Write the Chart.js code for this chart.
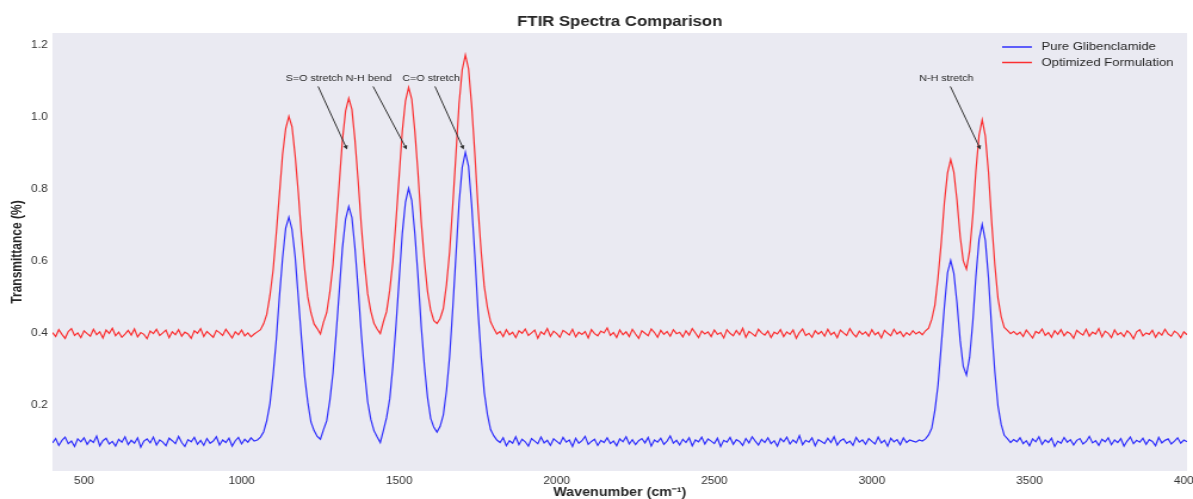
<!DOCTYPE html>
<html>
<head>
<meta charset="utf-8">
<script src="https://cdn.jsdelivr.net/npm/chart.js@4.4.1/dist/chart.umd.min.js"></script>
<style>
  html, body { margin: 0; padding: 0; background: #ffffff; overflow: hidden; }
  /* the reference is a 1000x500 figure stretched to 1193 wide, so draw at 1000 and stretch the same way */
  #wrap { width: 1000px; height: 499px; transform: scale(1.193, 1); transform-origin: 0 0; }
  #spectra { display: block; }
</style>
</head>
<body>
<div id="wrap"><canvas id="spectra" width="1000" height="499"></canvas></div>
<script>
// x values, cm^-1
const wavenumbers = [
  400,410,420,430,440,450,460,470,480,490,500,510,520,530,540,550,560,570,580,590,
  600,610,620,630,640,650,660,670,680,690,700,710,720,730,740,750,760,770,780,790,
  800,810,820,830,840,850,860,870,880,890,900,910,920,930,940,950,960,970,980,990,
  1000,1010,1020,1030,1040,1050,1060,1070,1080,1090,1100,1110,1120,1130,1140,1150,1160,1170,1180,1190,
  1200,1210,1220,1230,1240,1250,1260,1270,1280,1290,1300,1310,1320,1330,1340,1350,1360,1370,1380,1390,
  1400,1410,1420,1430,1440,1450,1460,1470,1480,1490,1500,1510,1520,1530,1540,1550,1560,1570,1580,1590,
  1600,1610,1620,1630,1640,1650,1660,1670,1680,1690,1700,1710,1720,1730,1740,1750,1760,1770,1780,1790,
  1800,1810,1820,1830,1840,1850,1860,1870,1880,1890,1900,1910,1920,1930,1940,1950,1960,1970,1980,1990,
  2000,2010,2020,2030,2040,2050,2060,2070,2080,2090,2100,2110,2120,2130,2140,2150,2160,2170,2180,2190,
  2200,2210,2220,2230,2240,2250,2260,2270,2280,2290,2300,2310,2320,2330,2340,2350,2360,2370,2380,2390,
  2400,2410,2420,2430,2440,2450,2460,2470,2480,2490,2500,2510,2520,2530,2540,2550,2560,2570,2580,2590,
  2600,2610,2620,2630,2640,2650,2660,2670,2680,2690,2700,2710,2720,2730,2740,2750,2760,2770,2780,2790,
  2800,2810,2820,2830,2840,2850,2860,2870,2880,2890,2900,2910,2920,2930,2940,2950,2960,2970,2980,2990,
  3000,3010,3020,3030,3040,3050,3060,3070,3080,3090,3100,3110,3120,3130,3140,3150,3160,3170,3180,3190,
  3200,3210,3220,3230,3240,3250,3260,3270,3280,3290,3300,3310,3320,3330,3340,3350,3360,3370,3380,3390,
  3400,3410,3420,3430,3440,3450,3460,3470,3480,3490,3500,3510,3520,3530,3540,3550,3560,3570,3580,3590,
  3600,3610,3620,3630,3640,3650,3660,3670,3680,3690,3700,3710,3720,3730,3740,3750,3760,3770,3780,3790,
  3800,3810,3820,3830,3840,3850,3860,3870,3880,3890,3900,3910,3920,3930,3940,3950,3960,3970,3980,3990,
  4000
];

// Pure Glibenclamide
const pureValues = [
  // 400
  0.096,0.108,0.089,0.103,0.112,0.094,0.101,0.086,0.107,0.099,
  0.110,0.092,0.104,0.097,0.115,0.088,0.102,0.109,0.093,0.100,
  0.087,0.106,0.098,0.113,0.091,0.103,0.095,0.110,0.084,0.101,
  0.107,0.096,0.112,0.090,0.104,0.098,0.088,0.109,0.102,0.094,
  0.114,0.097,0.086,0.105,0.099,0.111,0.092,0.103,0.089,0.108,
  0.095,0.101,0.113,0.090,0.104,0.097,0.109,0.087,0.102,0.111,
  0.093,0.106,0.098,0.110,0.101,
  // 1050
  0.104,0.112,0.127,0.158,0.205,0.285,0.382,0.502,0.608,0.692,
  0.722,0.688,0.612,0.498,0.386,0.281,0.209,0.154,0.130,0.114,
  0.106,0.133,0.157,0.214,0.290,0.400,0.517,0.637,0.717,0.752,
  0.721,0.633,0.521,0.396,0.294,0.210,0.161,0.130,0.113,0.097,
  0.131,0.166,0.218,0.309,0.423,0.550,0.678,0.764,0.802,0.768,
  0.674,0.554,0.419,0.310,0.222,0.164,0.139,0.126,0.142,0.173,
  0.240,0.334,0.468,0.614,0.760,0.860,0.902,0.864,0.756,0.618,
  0.464,0.338,0.236,0.175,0.133,0.116,
  // 1810
  0.104,0.097,0.110,0.088,0.102,0.095,0.113,0.091,0.106,0.099,
  0.087,0.108,0.101,0.094,0.112,0.096,0.103,0.089,0.107,0.100,
  0.093,0.111,0.098,0.104,0.086,0.109,0.095,0.102,0.114,0.092,
  0.100,0.106,0.089,0.103,0.097,0.110,0.094,0.101,0.088,0.107,
  0.099,0.113,0.093,0.105,0.091,0.102,0.108,0.096,0.111,0.087,
  0.104,0.098,0.109,0.092,0.101,0.115,0.095,0.103,0.090,0.106,
  0.097,0.110,0.088,0.104,0.099,0.112,0.093,0.107,0.101,0.094,
  0.109,0.086,0.103,0.098,0.111,0.092,0.105,0.100,0.089,0.108,
  0.096,0.113,0.101,0.090,0.106,0.097,0.110,0.094,0.102,0.087,
  0.108,0.099,0.112,0.093,0.104,0.096,0.116,0.091,0.103,0.098,
  0.110,0.088,0.105,0.100,0.094,0.109,0.097,0.113,0.090,0.102,
  0.107,0.095,0.101,0.089,0.111,0.098,0.104,0.092,0.108,0.100,
  0.093,0.112,0.096,0.103,0.087,0.109,0.099,0.105,0.091,0.110,
  0.097,0.104,0.101,
  // 3140
  0.098,0.104,0.101,0.107,0.118,0.137,0.187,0.258,0.366,0.474,
  0.568,0.602,0.566,0.484,0.381,0.308,0.284,0.333,0.430,0.558,
  0.659,0.702,0.657,0.553,0.414,0.294,0.199,0.148,0.117,0.108,
  0.097,0.105,0.099,
  // 3470
  0.110,0.094,0.102,0.088,0.107,0.099,0.113,0.092,0.104,0.097,
  0.109,0.086,0.101,0.095,0.111,0.098,0.105,0.090,0.103,0.108,
  0.093,0.100,0.114,0.096,0.102,0.089,0.106,0.099,0.110,0.091,
  0.104,0.097,0.108,0.087,0.101,0.112,0.094,0.103,0.098,0.109,
  0.092,0.105,0.100,0.088,0.111,0.096,0.103,0.107,0.093,0.101,
  0.110,0.095,0.104,0.099
];

// Optimized Formulation
const optimizedValues = [
  // 400
  0.402,0.391,0.410,0.397,0.386,0.405,0.413,0.394,0.401,0.388,
  0.407,0.399,0.392,0.411,0.396,0.404,0.387,0.409,0.400,0.414,
  0.393,0.403,0.389,0.398,0.408,0.395,0.412,0.390,0.402,0.397,
  0.385,0.406,0.399,0.411,0.394,0.401,0.409,0.388,0.404,0.396,
  0.410,0.392,0.403,0.398,0.386,0.407,0.400,0.413,0.391,0.405,
  0.397,0.389,0.408,0.402,0.394,0.411,0.399,0.387,0.404,0.396,
  0.409,0.393,0.401,0.390,0.398,
  // 1050
  0.404,0.410,0.427,0.453,0.505,0.575,0.677,0.785,0.896,0.968,
  1.002,0.973,0.892,0.789,0.673,0.579,0.501,0.457,0.426,0.413,
  0.398,0.431,0.457,0.514,0.590,0.701,0.817,0.937,1.017,1.052,
  1.021,0.933,0.821,0.696,0.594,0.510,0.461,0.428,0.412,0.399,
  0.432,0.460,0.519,0.599,0.713,0.837,0.962,1.045,1.082,1.049,
  0.958,0.841,0.709,0.602,0.516,0.464,0.435,0.427,0.441,0.468,
  0.534,0.625,0.755,0.895,1.036,1.131,1.172,1.134,1.032,0.899,
  0.751,0.629,0.530,0.472,0.432,0.414,
  // 1810
  0.398,0.405,0.391,0.410,0.396,0.403,0.388,0.407,0.400,0.412,
  0.394,0.401,0.409,0.386,0.404,0.397,0.413,0.392,0.406,0.399,
  0.389,0.408,0.402,0.395,0.411,0.390,0.403,0.397,0.405,0.387,
  0.410,0.399,0.393,0.406,0.401,0.415,0.394,0.402,0.388,0.409,
  0.396,0.404,0.391,0.411,0.398,0.386,0.407,0.400,0.393,0.412,
  0.402,0.389,0.408,0.397,0.405,0.392,0.410,0.399,0.403,0.390,
  0.407,0.395,0.413,0.401,0.388,0.406,0.398,0.404,0.391,0.409,
  0.397,0.402,0.387,0.410,0.400,0.393,0.408,0.396,0.414,0.389,
  0.405,0.399,0.392,0.411,0.401,0.395,0.406,0.388,0.403,0.398,
  0.410,0.391,0.404,0.397,0.409,0.386,0.402,0.412,0.394,0.400,
  0.389,0.407,0.398,0.405,0.392,0.411,0.396,0.403,0.388,0.409,
  0.401,0.394,0.413,0.399,0.390,0.406,0.397,0.404,0.392,0.410,
  0.396,0.403,0.387,0.408,0.400,0.393,0.411,0.398,0.405,0.391,
  0.402,0.395,0.407,
  // 3140
  0.398,0.404,0.396,0.407,0.414,0.439,0.479,0.556,0.651,0.763,
  0.845,0.882,0.847,0.769,0.669,0.601,0.578,0.628,0.724,0.851,
  0.949,0.992,0.947,0.846,0.709,0.591,0.498,0.447,0.416,0.408,
  0.399,0.405,0.396,
  // 3470
  0.403,0.391,0.409,0.398,0.387,0.405,0.400,0.412,0.394,0.402,
  0.389,0.407,0.397,0.410,0.393,0.404,0.399,0.386,0.408,0.401,
  0.395,0.411,0.392,0.403,0.398,0.413,0.390,0.406,0.400,0.388,
  0.409,0.396,0.402,0.391,0.407,0.399,0.385,0.404,0.410,0.393,
  0.401,0.397,0.408,0.389,0.403,0.395,0.411,0.398,0.392,0.406,
  0.400,0.388,0.404,0.396
];

const seriesNames = ['Pure Glibenclamide', 'Optimized Formulation'];
const xTickValues = [500, 1000, 1500, 2000, 2500, 3000, 3500, 4000];
const yTickValues = [0.2, 0.4, 0.6, 0.8, 1.0, 1.2];

// peak labels and where their arrows point
const peakLabels = ['S=O stretch', 'N-H bend', 'C=O stretch', 'N-H stretch'];
const peakWavenumbers = [1340, 1530, 1710, 3350];
const arrowTipValue = 0.9;
const labelValue = 1.1;

const blueLine = 'rgba(0, 0, 255, 0.8)';
const redLine = 'rgba(255, 0, 0, 0.8)';
const textColor = '#262626';
const fontFamily = '"Liberation Sans", Arial, sans-serif';

function toPoints(values) {
    return wavenumbers.map((w, i) => ({x: w, y: values[i]}));
}

const decorPlugin = {
    id: 'decor',
    beforeDraw(chart) {
        const {ctx, chartArea: a} = chart;
        ctx.save();
        ctx.fillStyle = '#ffffff';
        ctx.fillRect(0, 0, chart.width, chart.height);
        ctx.fillStyle = '#EAEAF2';
        ctx.fillRect(a.left, a.top, a.right - a.left, a.bottom - a.top);
        ctx.restore();
    },
    afterDraw(chart) {
        const {ctx, chartArea: a} = chart;
        const xs = chart.scales.x, ys = chart.scales.y;
        ctx.save();
        ctx.fillStyle = textColor;

        // title and axis titles
        ctx.textAlign = 'center';
        ctx.textBaseline = 'middle';
        ctx.font = 'bold 14px ' + fontFamily;
        ctx.fillText('FTIR Spectra Comparison', (a.left + a.right) / 2, 22);
        ctx.font = 'bold 12px ' + fontFamily;
        ctx.fillText('Wavenumber (cm\u207B\u00B9)', (a.left + a.right) / 2, 493);
        ctx.save();
        ctx.translate(15, (a.top + a.bottom) / 2);
        ctx.rotate(-Math.PI / 2);
        ctx.fillText('Transmittance (%)', 0, 0);
        ctx.restore();

        // peak annotations
        ctx.font = '9px ' + fontFamily;
        ctx.textAlign = 'left';
        ctx.textBaseline = 'alphabetic';
        ctx.strokeStyle = '#333333';
        ctx.lineWidth = 1;
        peakLabels.forEach((label, i) => {
            const tx = xs.getPixelForValue(peakWavenumbers[i] - 200);
            const ty = ys.getPixelForValue(labelValue);
            ctx.fillStyle = textColor;
            ctx.fillText(label, tx, ty);
            const w = ctx.measureText(label).width;
            const bx0 = tx, bx1 = tx + w, by0 = ty - 8, by1 = ty + 2;
            const cx = (bx0 + bx1) / 2, cy = (by0 + by1) / 2;
            const ex = xs.getPixelForValue(peakWavenumbers[i]);
            const ey = ys.getPixelForValue(arrowTipValue);
            const dx = ex - cx, dy = ey - cy;
            const tX = dx > 0 ? (bx1 - cx) / dx : dx < 0 ? (bx0 - cx) / dx : Infinity;
            const tY = dy > 0 ? (by1 - cy) / dy : dy < 0 ? (by0 - cy) / dy : Infinity;
            const t = Math.min(tX, tY);
            let sx = cx + dx * t, sy = cy + dy * t;
            const len = Math.hypot(ex - sx, ey - sy);
            const ux = (ex - sx) / len, uy = (ey - sy) / len;
            sx += ux * len * 0.05; sy += uy * len * 0.05;
            const hx = ex - ux * len * 0.05, hy = ey - uy * len * 0.05;
            ctx.beginPath();
            ctx.moveTo(sx, sy);
            ctx.lineTo(hx - ux * 3, hy - uy * 3);
            ctx.stroke();
            ctx.fillStyle = '#333333';
            ctx.beginPath();
            ctx.moveTo(hx, hy);
            ctx.lineTo(hx - ux * 4 - uy * 2, hy - uy * 4 + ux * 2);
            ctx.lineTo(hx - ux * 4 + uy * 2, hy - uy * 4 - ux * 2);
            ctx.closePath();
            ctx.fill();
        });

        // legend, top right, no frame
        const colors = [blueLine, redLine];
        ctx.font = '11px ' + fontFamily;
        ctx.textBaseline = 'middle';
        seriesNames.forEach((name, i) => {
            const y = 47 + i * 15.5;
            ctx.strokeStyle = colors[i];
            ctx.lineWidth = 1.5;
            ctx.beginPath();
            ctx.moveTo(840, y);
            ctx.lineTo(865, y);
            ctx.stroke();
            ctx.fillStyle = textColor;
            ctx.fillText(name, 873, y);
        });
        ctx.restore();
    }
};

new Chart(document.getElementById('spectra').getContext('2d'), {
    type: 'line',
    data: {
        datasets: [
            {
                label: seriesNames[0],
                data: toPoints(pureValues),
                borderColor: blueLine,
                borderWidth: 1.2,
                pointRadius: 0,
                tension: 0,
            },
            {
                label: seriesNames[1],
                data: toPoints(optimizedValues),
                borderColor: redLine,
                borderWidth: 1.2,
                pointRadius: 0,
                tension: 0,
            },
        ],
    },
    options: {
        responsive: false,
        devicePixelRatio: 1,
        animation: false,
        layout: {padding: {top: 33, right: 5, left: 0, bottom: 0}},
        plugins: {
            legend: {display: false},
            title: {display: false},
            tooltip: {enabled: false},
        },
        scales: {
            x: {
                type: 'linear',
                min: 400,
                max: 4000,
                grid: {display: false, drawTicks: false},
                border: {display: false},
                ticks: {
                    color: '#333333',
                    font: {family: fontFamily, size: 10},
                    padding: 4,
                    maxRotation: 0,
                    callback: v => String(v),
                },
                afterBuildTicks: s => { s.ticks = xTickValues.map(v => ({value: v})); },
                // let the last tick label hang over the edge instead of shrinking the plot
                afterFit: s => { s.height = 28; s.paddingLeft = 0; s.paddingRight = 0; },
            },
            y: {
                type: 'linear',
                min: 0.018,
                max: 1.233,
                grid: {display: false, drawTicks: false},
                border: {display: false},
                ticks: {
                    color: '#333333',
                    font: {family: fontFamily, size: 10},
                    padding: 4,
                    callback: v => v.toFixed(1),
                },
                afterBuildTicks: s => { s.ticks = yTickValues.map(v => ({value: v})); },
                afterFit: s => { s.width = 44; s.paddingTop = 0; s.paddingBottom = 0; },
            },
        },
    },
    plugins: [decorPlugin],
});
</script>
</body>
</html>
